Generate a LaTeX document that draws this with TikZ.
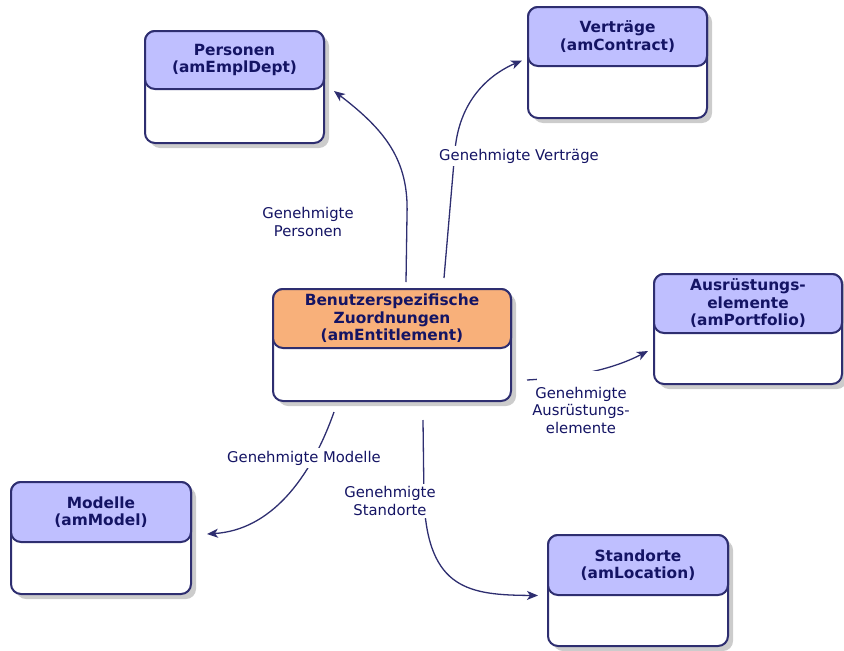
\documentclass[tikz,border=0pt]{standalone}
\usepackage{fontspec}
\setmainfont{DejaVu Sans}
\usetikzlibrary{arrows.meta,calc,shadows}
\definecolor{linenavy}{RGB}{46,46,112}
\definecolor{textnavy}{RGB}{20,20,100}
\definecolor{headblue}{RGB}{191,191,255}
\definecolor{headorange}{RGB}{248,176,122}
\tikzset{
  tbl/.style={draw=linenavy, line width=2pt, rounded corners=10pt, fill=white, anchor=north west,
    drop shadow={shadow xshift=5pt, shadow yshift=-5pt, fill=black!40}},
  tblhead/.style={draw=linenavy, line width=2pt, rounded corners=10pt, fill=headblue, text=textnavy,
    align=center, anchor=north, font=\fontsize{15.4}{17.5}\selectfont\bfseries},
  conn/.style={draw=linenavy, line width=1.3pt, -{Stealth[length=11pt,width=9pt,inset=3pt]}},
  lbl/.style={fill=white, text=textnavy, align=center, inner sep=3pt, font=\fontsize{14.8}{17.5}\selectfont}
}
\begin{document}
\begin{tikzpicture}[x=1pt, y=-1pt]
\useasboundingbox (0,0) rectangle (844,651);
% tables
\node[tbl, minimum width=238pt, minimum height=112pt] (ctr) at (272,288) {};
\node[tblhead, fill=headorange, minimum width=238pt, minimum height=59pt] (ctrh) at (ctr.north) {Benutzerspezifische\\Zuordnungen\\(amEntitlement)};
\node[tbl, minimum width=179pt, minimum height=112pt] (pers) at (144,30) {};
\node[tblhead, minimum width=179pt, minimum height=58pt] (persh) at (pers.north) {Personen\\(amEmplDept)};
\node[tbl, minimum width=179pt, minimum height=111pt] (vert) at (527,6) {};
\node[tblhead, minimum width=179pt, minimum height=59pt] (verth) at (vert.north) {Verträge\\(amContract)};
\node[tbl, minimum width=188pt, minimum height=110pt] (ausr) at (653,273) {};
\node[tblhead, minimum width=188pt, minimum height=59pt] (ausrh) at (ausr.north) {Ausrüstungs-\\elemente\\(amPortfolio)};
\node[tbl, minimum width=180pt, minimum height=112pt] (mod) at (10,481) {};
\node[tblhead, minimum width=180pt, minimum height=60pt] (modh) at (mod.north) {Modelle\\(amModel)};
\node[tbl, minimum width=180pt, minimum height=111pt] (std) at (547,534) {};
\node[tblhead, minimum width=180pt, minimum height=60pt] (stdh) at (std.north) {Standorte\\(amLocation)};
% links
\draw[conn] ($(ctr.north)+(14,-6)$) -- (407,215) .. controls (409,160) and (385,130) .. ($(pers.east)+(9,4)$);
\draw[conn] ($(ctr.north)+(52,-10)$) -- (455,150) .. controls (460,95) and (495,72) .. ($(vert.west)+(-5,-2)$);
\draw[conn] ($(ctr.east)+(15,35)$) .. controls (580,377) and (615,368) .. ($(ausr.west)+(-5,22)$);
\draw[conn] ($(ctr.south)+(-58,10)$) .. controls (310,480) and (270,530) .. ($(mod.east)+(15,-4)$);
\draw[conn] ($(ctr.south)+(31,18)$) -- (424,500) .. controls (428,590) and (470,595) .. ($(std.west)+(-9,5)$);
% labels
\node[lbl] (lpers) at (308,222) {Genehmigte\\Personen};
\node[lbl] (lvert) at (519,156) {Genehmigte Verträge};
\node[lbl, inner xsep=-5pt, inner ysep=16pt] (lausr) at (581,410) {Genehmigte\\Ausrüstungs-\\elemente};
\node[lbl] (lmod) at (304,458) {Genehmigte Modelle};
\node[lbl] (lstd) at (390,501) {Genehmigte\\Standorte};
\end{tikzpicture}
\end{document}
